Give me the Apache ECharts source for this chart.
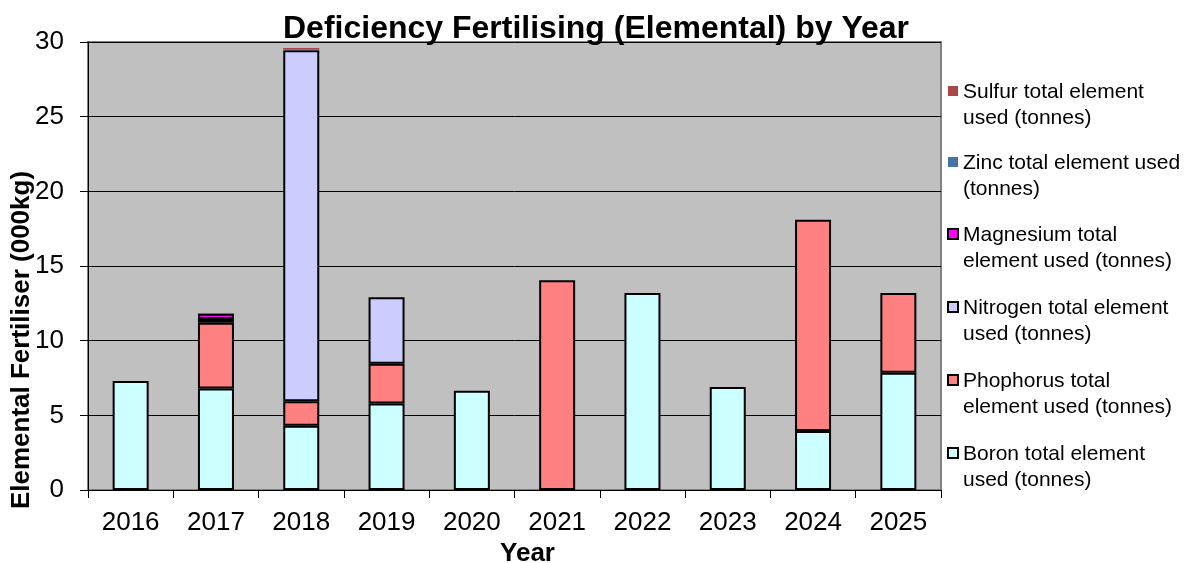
<!DOCTYPE html>
<html>
<head>
<meta charset="utf-8">
<script src="https://cdn.jsdelivr.net/npm/echarts@6/dist/echarts.min.js"></script>
<style>html,body{margin:0;padding:0;background:#fff;overflow:hidden;}#c{width:1192px;height:563px;}</style>
</head>
<body>
<div id="c"></div>
<script>
const years = ['2016','2017','2018','2019','2020','2021','2022','2023','2024','2025'];
const boron      = [7.3, 6.8, 4.3, 5.8, 6.65, 0, 13.2, 6.9, 3.95, 7.85];
const phosphorus = [0, 4.4, 1.65, 2.65, 0, 14.05, 0, 0, 14.15, 5.35];
const nitrogen   = [0, 0.25, 23.5, 4.45, 0, 0, 0, 0, 0, 0];
const magnesium  = [0, 0.35, 0, 0, 0, 0, 0, 0, 0, 0];
const zinc       = [0, 0, 0.05, 0, 0, 0, 0, 0, 0, 0];
const sulfur     = [0, 0.05, 0.1, 0, 0, 0, 0, 0, 0, 0];
const names = {
  sulfur: 'Sulfur total element\nused (tonnes)',
  zinc: 'Zinc total element used\n(tonnes)',
  magnesium: 'Magnesium total\nelement used (tonnes)',
  nitrogen: 'Nitrogen total element\nused (tonnes)',
  phosphorus: 'Phophorus total\nelement used (tonnes)',
  boron: 'Boron total element\nused (tonnes)'
};
const colors = {
  sulfur: '#aa4643', zinc: '#4572a7', magnesium: '#ff00ff',
  nitrogen: '#ccccff', phosphorus: '#ff8080', boron: '#ccffff'
};
const bordered = { sulfur: false, zinc: false, magnesium: true, nitrogen: true, phosphorus: true, boron: true };
const legendOrder = ['sulfur', 'zinc', 'magnesium', 'nitrogen', 'phosphorus', 'boron'];
const FONT = 'Arial, "Liberation Sans", sans-serif';
function ser(key, data) {
  const b = bordered[key];
  return {
    name: names[key], type: 'bar', stack: 'all', barWidth: 36,
    data: data.map(v => (v === 0 ? '-' : v)),
    itemStyle: { color: colors[key], borderColor: b ? '#000' : colors[key], borderWidth: b ? 2 : 0 }
  };
}
const chart = echarts.init(document.getElementById('c'), null, { renderer: 'canvas' });
chart.setOption({
  animation: false,
  backgroundColor: '#fff',
  title: {
    text: 'Deficiency Fertilising (Elemental) by Year', left: 591, top: 8, textAlign: 'center',
    textStyle: { fontFamily: FONT, fontSize: 32, fontWeight: 'bold', color: '#000' }
  },
  grid: { left: 88, right: 251, top: 42, bottom: 73, containLabel: false, outerBoundsMode: 'none',
          show: true, backgroundColor: '#c0c0c0', borderColor: '#808080', borderWidth: 2 },
  legend: {
    orient: 'vertical', left: 941, top: 74, itemGap: 19, itemWidth: 11, itemHeight: 52,
    icon: 'path://M1,7h10v10h-10zM0,0M0,52',
    data: legendOrder.map(k => ({
      name: names[k],
      itemStyle: { color: colors[k], borderColor: bordered[k] ? '#000' : colors[k], borderWidth: bordered[k] ? 2 : 0 }
    })),
    textStyle: { fontFamily: FONT, fontSize: 21, color: '#000', lineHeight: 26 },
    selectedMode: false
  },
  xAxis: {
    type: 'category', data: years,
    name: 'Year', nameLocation: 'middle', nameGap: 50,
    nameTextStyle: { fontFamily: FONT, fontSize: 26, fontWeight: 'bold', color: '#000', padding: [0, 0, 0, 26] },
    axisLine: { lineStyle: { color: '#000', width: 1 } },
    axisTick: { show: true, length: 8, lineStyle: { color: '#000' } },
    axisLabel: { fontFamily: FONT, fontSize: 26, color: '#000', margin: 20 }
  },
  yAxis: {
    type: 'value', min: 0, max: 30, interval: 5,
    axisLine: { show: true, lineStyle: { color: '#000' } },
    axisTick: { show: true, length: 8, lineStyle: { color: '#000' } },
    axisLabel: { fontFamily: FONT, fontSize: 26, color: '#000', margin: 24 },
    splitLine: { lineStyle: { color: '#000', width: 1 } }
  },
  graphic: [{
    type: 'text', x: 22, y: 340, rotation: Math.PI / 2,
    style: { text: 'Elemental Fertiliser (000kg)', font: 'bold 26px ' + FONT, fill: '#000', textAlign: 'center', textVerticalAlign: 'middle' }
  }],
  series: [
    ser('boron', boron),
    ser('phosphorus', phosphorus),
    ser('nitrogen', nitrogen),
    ser('magnesium', magnesium),
    ser('zinc', zinc),
    ser('sulfur', sulfur)
  ]
});
</script>
</body>
</html>
